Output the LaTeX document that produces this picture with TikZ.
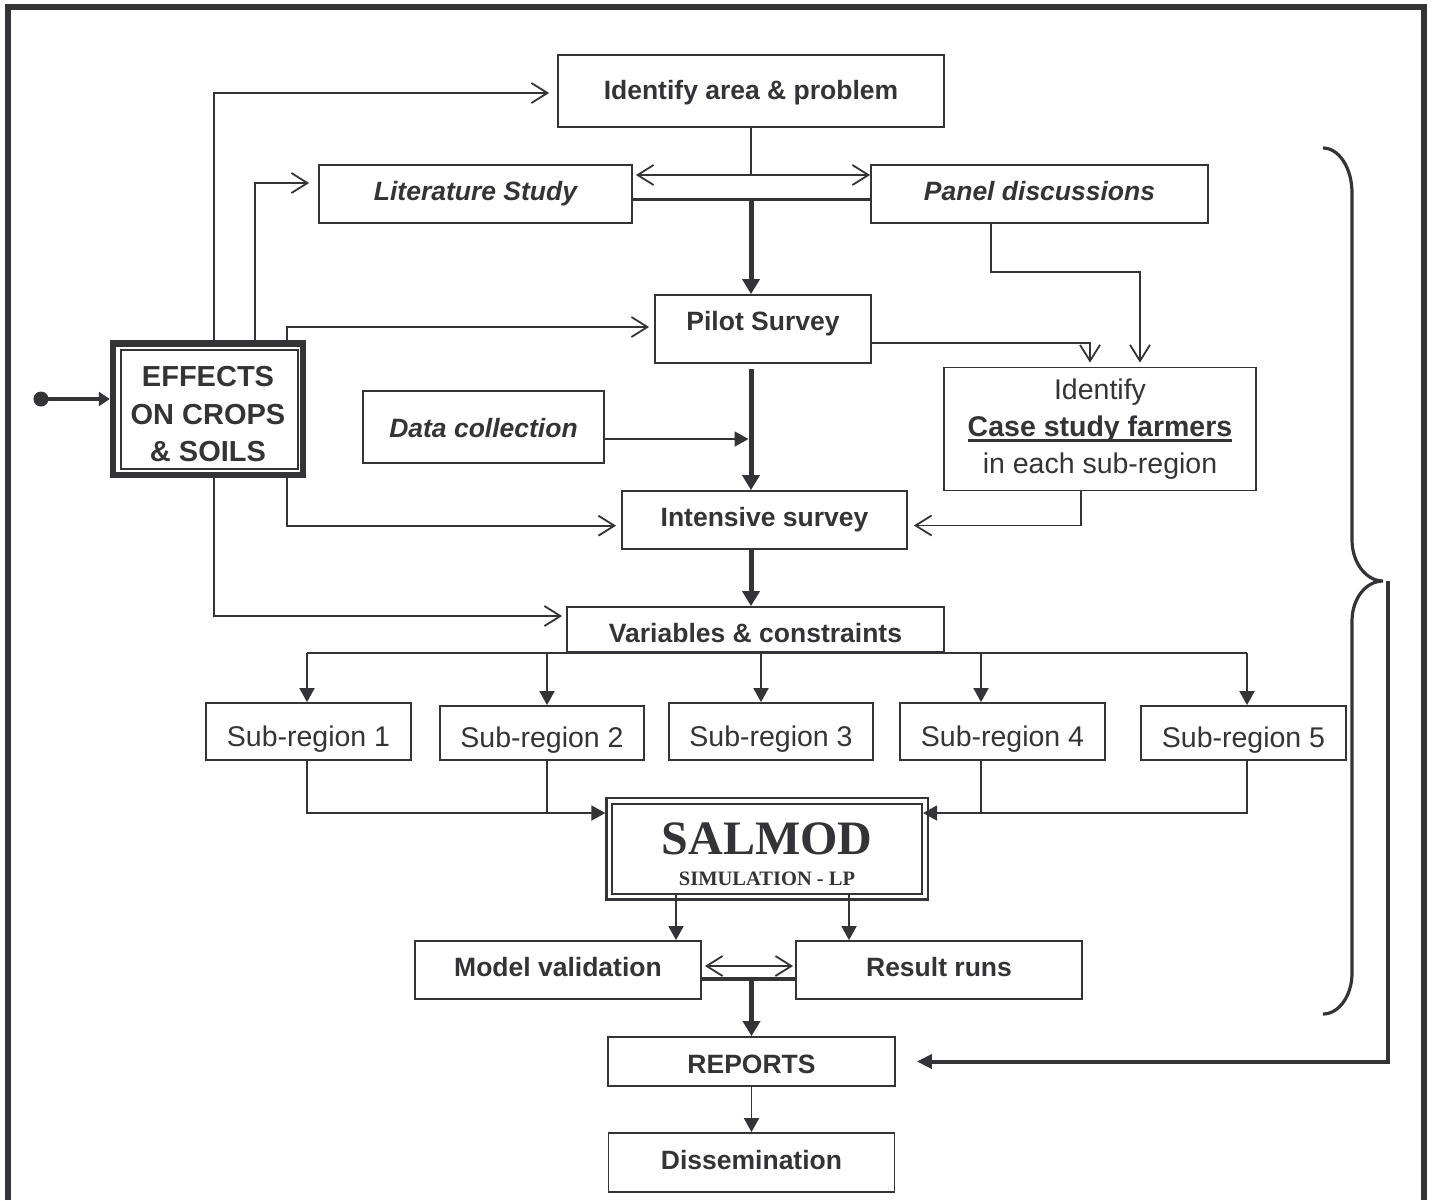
\documentclass[tikz,border=0pt]{standalone}
\usepackage{fontspec}
\setmainfont{Liberation Sans}
\newfontfamily\serifbf{Liberation Serif}
\usetikzlibrary{arrows.meta}
\definecolor{ink}{RGB}{51,51,56}
\newcommand\thickul[1]{\setbox0\hbox{#1}\rlap{\raisebox{-6pt}{\rule{\wd0}{3pt}}}\box0}
\begin{document}
\begin{tikzpicture}[x=1pt,y=-1pt,
 frame/.style={draw=ink, line width=1.8pt, inner sep=0pt, text=ink},
 box/.style={frame, font=\fontsize{26.5}{30}\selectfont\bfseries, text height=19pt, text depth=5.5pt},
 itbox/.style={box, font=\fontsize{26.5}{30}\selectfont\bfseries\itshape},
 srbox/.style={box, font=\fontsize{28.5}{32}\selectfont, text height=35.4pt, text depth=6pt},
 ln/.style={draw=ink, line width=1.8pt},
 tk/.style={draw=ink, line width=5pt},
 tkh/.style={draw=ink, line width=3.5pt},
 oa/.style={-{Straight Barb[length=16pt,width=20pt]}},
 oaa/.style={{Straight Barb[length=16pt,width=20pt]}-{Straight Barb[length=16pt,width=20pt]}},
 fa/.style={-{Triangle[length=14pt,width=15pt]}},
 fab/.style={-{Triangle[length=15pt,width=17pt]}},
]
\useasboundingbox (0,0) rectangle (1434,1200);
% outer frame
\draw[ink, line width=6pt] (7.5,1200) -- (7.5,6.5) -- (1423.5,6.5) -- (1423.5,1200);

% boxes
\node[box, minimum width=386pt, minimum height=72pt, text depth=3pt] (id) at (751,91) {Identify area \& problem};
\node[itbox, minimum width=313pt, minimum height=58pt] (lit) at (475.5,194) {Literature Study};
\node[itbox, minimum width=337pt, minimum height=58pt] (pan) at (1039.5,194) {Panel discussions};
\node[box, minimum width=216pt, minimum height=68pt, text depth=16pt] (pil) at (763,329) {Pilot Survey};
\node[itbox, minimum width=241pt, minimum height=72pt, text height=26.5pt] (dat) at (483.5,427) {Data collection};
\node[box, minimum width=285pt, minimum height=58pt] (int) at (764.5,520) {Intensive survey};
\node[box, minimum width=377pt, minimum height=45pt, text height=31.5pt] (var) at (755.5,629.5) {Variables \& constraints};
\node[frame, align=center, font=\fontsize{28.5}{37}\selectfont, minimum width=312pt, minimum height=123pt] (cas) at (1100,429)
  {Identify\\\thickul{\bfseries Case study farmers}\\in each sub-region};

\node[frame, line width=6.5pt, minimum width=190pt, minimum height=131.5pt, align=center, font=\fontsize{29}{37.3}\selectfont\bfseries] (eff) at (208,409.25)
  {\rule{0pt}{30.2pt}EFFECTS\\ON CROPS\\\& SOILS};
\draw[ink, line width=2pt] ([shift={(11.25pt,-9.75pt)}]eff.north west) rectangle ([shift={(-8.25pt,9.25pt)}]eff.south east);

\node[srbox, minimum width=205pt, minimum height=57pt] (sr1) at (308.5,731.5) {Sub-region 1};
\node[srbox, minimum width=204pt, minimum height=54pt] (sr2) at (542,733) {Sub-region 2};
\node[srbox, minimum width=204pt, minimum height=57pt] (sr3) at (771,731.5) {Sub-region 3};
\node[srbox, minimum width=205pt, minimum height=57pt] (sr4) at (1002.5,731.5) {Sub-region 4};
\node[srbox, minimum width=205pt, minimum height=54pt] (sr5) at (1243.5,733) {Sub-region 5};

\node[frame, line width=2.3pt, minimum width=321.5pt, minimum height=101.5pt] (sal) at (767.25,848.75) {};
\draw[ink, line width=2.8pt] ([shift={(6.65pt,-7.15pt)}]sal.north west) rectangle ([shift={(-7.15pt,6.65pt)}]sal.south east);
\node[anchor=base, inner sep=0pt, text=ink, font=\serifbf\fontsize{48}{48}\selectfont\bfseries] (saltxt) at (767,854) {SALMOD};
\node[anchor=base, inner sep=0pt, text=ink, font=\serifbf\fontsize{20.5}{22}\selectfont\bfseries] (simtxt) at (767,885) {SIMULATION - LP};

\node[box, minimum width=286pt, minimum height=58pt] (mv) at (558,970) {Model validation};
\node[box, minimum width=286pt, minimum height=58pt] (rr) at (939,970) {Result runs};
\node[box, minimum width=287pt, minimum height=49pt, text height=28.9pt] (rep) at (751.5,1061.5) {REPORTS};
\node[box, minimum width=286pt, minimum height=59pt] (dis) at (751.5,1162.5) {Dissemination};

\node[circle, fill=ink, inner sep=0pt, minimum size=15pt] (dot) at (41,399) {};

% top part
\coordinate (dbl) at ([yshift=19pt]lit.east);
\draw[ln] (id.south) -- (id.south |- dbl);
\draw[ln, oaa, shorten <=3pt] (dbl) -- (dbl -| pan.west);
\coordinate (tl) at ([yshift=-5.5pt]lit.east);
\draw[tkh] (tl) -- (tl -| pan.west);
\draw[tk, fab] (tl -| id.south) -- (pil.north -| id.south);
\draw[tk, fab, shorten <=5pt] (pil.south -| id.south) -- (int.north -| id.south);
\coordinate (dl) at ([yshift=-12pt]dat.east);
\draw[ln, fa, shorten >=2.5pt] (dl) -- (dl -| id.south);
\draw[tk, fab] (int.south -| id.south) -- (var.north -| id.south);

\coordinate (p1) at ([yshift=-14pt]pil.east);
\coordinate (c1) at ([xshift=-10pt]cas.north);
\draw[ln, oa, shorten >=4pt] (p1) -| (c1);
\coordinate (pd) at ([xshift=-48.5pt]pan.south);
\coordinate (c2) at ([xshift=40pt]cas.north);
\draw[ln, oa, shorten >=4pt] (pd) -- ++(0,48) -| (c2);
\coordinate (cs) at ([xshift=-19pt]cas.south);
\coordinate (i1) at ([yshift=-5.5pt]int.east);
\draw[ln, oa, shorten >=6pt] (cs) |- (i1);

% effects connectors
\coordinate (e1) at ([xshift=6pt]eff.north);
\coordinate (e2) at ([xshift=47pt]eff.north);
\coordinate (e3) at ([xshift=79pt]eff.north);
\coordinate (e4) at ([xshift=79pt]eff.south);
\coordinate (e5) at ([xshift=6pt]eff.south);
\coordinate (iw) at ([yshift=-2pt]id.west);
\coordinate (lw) at ([yshift=11pt]lit.west);
\coordinate (pw) at ([yshift=2pt]pil.west);
\coordinate (nw) at ([yshift=-5.7pt]int.west);
\coordinate (vw) at ([yshift=13.5pt]var.west);
\draw[ln, oa, shorten >=8pt] (e1) |- (iw);
\draw[ln, oa, shorten >=9pt] (e2) |- (lw);
\draw[ln, oa, shorten >=5pt] (e3) |- (pw);
\draw[ln, oa, shorten >=5pt] (e4) |- (nw);
\draw[ln, oa, shorten >=4pt] (e5) |- (vw);
\draw[ink, line width=3.5pt, -{Triangle[length=11pt,width=14pt]}] (dot.center) -- (dot.center -| eff.west);

% sub-regions
\coordinate (a1) at ([xshift=-1.5pt]sr1.north);
\coordinate (a2) at ([xshift=5pt]sr2.north);
\coordinate (a3) at ([xshift=-10pt]sr3.north);
\coordinate (a4) at ([xshift=-21.5pt]sr4.north);
\coordinate (a5) at ([xshift=3.5pt]sr5.north);
\draw[ln] (a1 |- var.south) -- (a5 |- var.south);
\foreach \a in {a1,a2,a3,a4,a5} {\draw[ln, fa] (\a |- var.south) -- (\a);}

\coordinate (b1) at ([xshift=-1.5pt]sr1.south);
\coordinate (b2) at ([xshift=5pt]sr2.south);
\coordinate (b4) at ([xshift=-21.5pt]sr4.south);
\coordinate (b5) at ([xshift=3.5pt]sr5.south);
\coordinate (sl) at ([yshift=35.75pt]sal.west);
\coordinate (sr) at ([shift={(-6pt,35.75pt)}]sal.east);
\draw[ln, fa] (b1) |- (sl);
\draw[ln] (b2) -- (b2 |- sl);
\draw[ln, fa] (b5) |- (sr);
\draw[ln] (b4) -- (b4 |- sr);

% salmod outputs
\coordinate (s1) at ([shift={(-91.25pt,7.6pt)}]sal.south);
\coordinate (s2) at ([shift={(81.75pt,7.6pt)}]sal.south);
\draw[ln, fa] (s1) -- (s1 |- mv.north);
\draw[ln, fa] (s2) -- (s2 |- rr.north);
\coordinate (m1) at ([yshift=4pt]mv.east);
\draw[ln, oaa, shorten <=3pt, shorten >=2pt] (m1) -- (m1 -| rr.west);
\coordinate (m2) at ([yshift=-9pt]mv.east);
\draw[tkh] (m2) -- (m2 -| rr.west);
\draw[tk, fab] (m2 -| rep.north) -- (rep.north);
\draw[ln, fa] (rep.south) -- (dis.north);

% brace
\draw[ink, line width=3.2pt] (1323,148) .. controls (1339,148) and (1352,168) .. (1352,193) -- (1352,540)
  .. controls (1352,562.5) and (1366,581) .. (1383,581)
  .. controls (1366,581) and (1352,598.5) .. (1352,621) -- (1352,973)
  .. controls (1352,995.5) and (1339,1014) .. (1323,1014);
\coordinate (btip) at (1388,581);
\draw[ink, line width=4pt, -{Triangle[length=15pt,width=14pt]}, shorten >=21pt] (btip) |- (rep.east);
\end{tikzpicture}
\end{document}
